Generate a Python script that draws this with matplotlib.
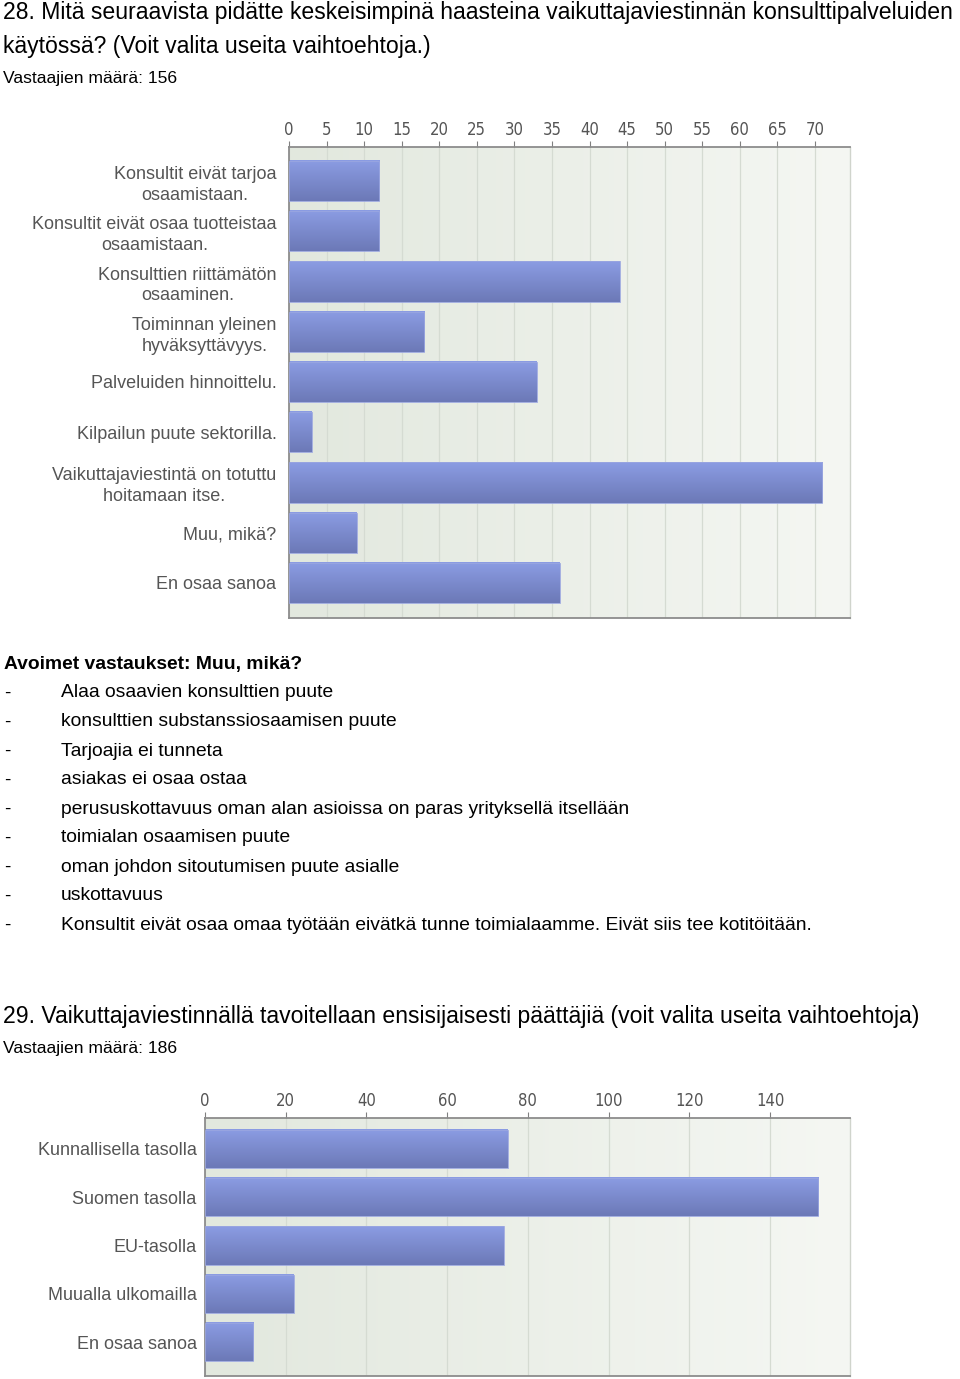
import numpy as np
import matplotlib
matplotlib.use('Agg')
import matplotlib.pyplot as plt
from matplotlib import font_manager as fm

W, H = 960, 1379

# --- data ---
q28_labels = ['Konsultit eivät tarjoa\nosaamistaan.',
              'Konsultit eivät osaa tuotteistaa\nosaamistaan.',
              'Konsulttien riittämätön\nosaaminen.',
              'Toiminnan yleinen\nhyväksyttävyys.',
              'Palveluiden hinnoittelu.',
              'Kilpailun puute sektorilla.',
              'Vaikuttajaviestintä on totuttu\nhoitamaan itse.',
              'Muu, mikä?',
              'En osaa sanoa']
q28_values = [12, 12, 44, 18, 33, 3, 71, 9, 36]
q28_ticks = [0, 5, 10, 15, 20, 25, 30, 35, 40, 45, 50, 55, 60, 65, 70]

q29_labels = ['Kunnallisella tasolla', 'Suomen tasolla', 'EU-tasolla',
              'Muualla ulkomailla', 'En osaa sanoa']
q29_values = [75, 152, 74, 22, 12]
q29_ticks = [0, 20, 40, 60, 80, 100, 120, 140]

open_answers = ['Alaa osaavien konsulttien puute',
                'konsulttien substanssiosaamisen puute',
                'Tarjoajia ei tunneta',
                'asiakas ei osaa ostaa',
                'perususkottavuus oman alan asioissa on paras yrityksellä itsellään',
                'toimialan osaamisen puute',
                'oman johdon sitoutumisen puute asialle',
                'uskottavuus',
                'Konsultit eivät osaa omaa työtään eivätkä tunne toimialaamme. Eivät siis tee kotitöitään.']

names = {f.name for f in fm.fontManager.ttflist}
NARROW = 'Liberation Sans Narrow' if 'Liberation Sans Narrow' in names else 'Liberation Sans'
SANS = 'Liberation Sans'

fig = plt.figure(figsize=(W / 100, H / 100), dpi=100)
renderer = fig.canvas.get_renderer()


def put_text(x, y, s, width=None, size=12, **kw):
    # x, y in pixels from top-left; y is vertical centre
    t = fig.text(x / W, 1 - y / H, s, va='center', ha='left', fontsize=size, **kw)
    if width is not None:
        bb = t.get_window_extent(renderer)
        t.set_fontsize(size * width / bb.width)
    return t


def bar_chart(rect, labels, values, ticks, xmax, ylim, bar_h, pad):
    l, t, r, b = rect
    ax = fig.add_axes([l / W, 1 - b / H, (r - l) / W, (b - t) / H])
    # background gradient
    bg = np.linspace(0, 1, 256).reshape(1, -1)
    cmap_bg = matplotlib.colors.LinearSegmentedColormap.from_list('bg', ['#e2e8de', '#f5f7f3'])
    ax.imshow(bg, cmap=cmap_bg, aspect='auto', extent=[0, 1, 0, 1],
              transform=ax.transAxes, zorder=0)
    for tk in ticks:
        ax.axvline(tk, color='#d5dbd2', lw=0.9, zorder=1)
    y = np.arange(len(values))
    bars = ax.barh(y, values, height=bar_h, color='none', edgecolor='#9aa6e0', lw=0.6, zorder=3)
    grad = np.linspace(0, 1, 64).reshape(-1, 1)
    cmap_bar = matplotlib.colors.LinearSegmentedColormap.from_list('bar', ['#8b9ce3', '#6c79b7'])
    for v, yy in zip(values, y):
        ax.imshow(grad, cmap=cmap_bar, aspect='auto',
                  extent=[0, v, yy + bar_h / 2, yy - bar_h / 2], zorder=2)
    ax.set_xlim(0, xmax)
    ax.set_ylim(*ylim)
    ax.xaxis.tick_top()
    ax.set_xticks(ticks)
    ax.tick_params(axis='x', colors='#808080', labelcolor='#555555', length=4,
                   width=0.8, labelsize=12, pad=2)
    for lab in ax.get_xticklabels():
        lab.set_fontfamily('DejaVu Sans')
        lab.set_fontstretch('condensed')
    ax.set_yticks(y)
    ax.set_yticklabels(labels, fontsize=13, color='#555555', family=SANS,
                       multialignment='center', linespacing=1.3)
    ax.tick_params(axis='y', length=0, pad=pad)
    for side in ['top', 'left', 'bottom']:
        ax.spines[side].set_color('#8c8c8c')
        ax.spines[side].set_linewidth(1.3)
    ax.spines['right'].set_color('#d0d4cc')
    ax.spines['right'].set_linewidth(1)
    return ax


# question 28
put_text(3, 13, '28. Mitä seuraavista pidätte keskeisimpinä haasteina vaikuttajaviestinnän konsulttipalveluiden',
         width=955, size=17, family=NARROW)
put_text(3, 46, 'käytössä? (Voit valita useita vaihtoehtoja.)', width=430, size=17, family=NARROW)
put_text(3, 79, 'Vastaajien määrä: 156', width=173, size=13, family=NARROW)

bar_chart((289, 147, 850, 618), q28_labels, q28_values, q28_ticks,
          561 / 7.514, (8.70, -0.68), 0.8, 9)

put_text(4, 664, 'Avoimet vastaukset: Muu, mikä?', width=297, size=13, family=SANS,
         fontweight='bold')
for i, s in enumerate(open_answers):
    yy = 693 + i * 29
    put_text(4, yy, '-', size=13.5, family=SANS)
    put_text(61, yy, s, size=13.9, family=SANS)

# question 29
put_text(3, 1016, '29. Vaikuttajaviestinnällä tavoitellaan ensisijaisesti päättäjiä (voit valita useita vaihtoehtoja)',
         width=925, size=17, family=NARROW)
put_text(3, 1049, 'Vastaajien määrä: 186', width=173, size=13, family=NARROW)

bar_chart((205, 1118, 850, 1376), q29_labels, q29_values, q29_ticks,
          645 / 4.036, (4.70, -0.64), 0.79, 6)

fig.savefig('out.png', dpi=100)
